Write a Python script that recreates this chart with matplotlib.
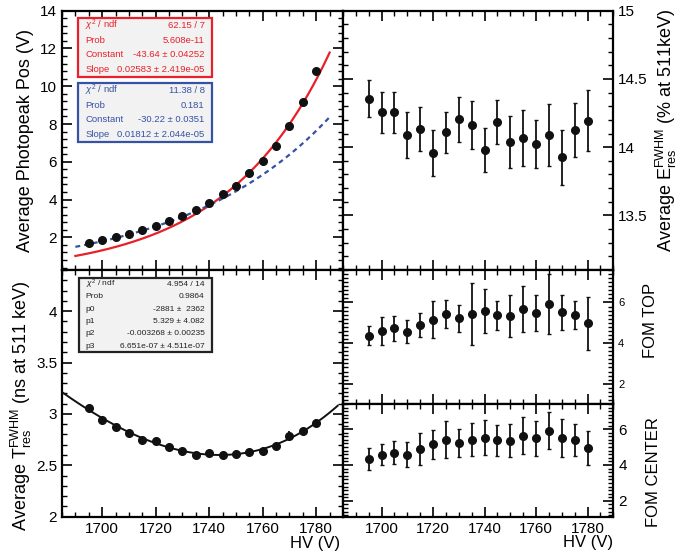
import numpy as np
import matplotlib
matplotlib.use('Agg')
import matplotlib.pyplot as plt
from matplotlib.ticker import MultipleLocator, FormatStrFormatter
from matplotlib.patches import Rectangle

plt.rcParams['font.family'] = ['Liberation Sans', 'DejaVu Sans']
plt.rcParams['mathtext.fontset'] = 'custom'
plt.rcParams['mathtext.rm'] = 'Liberation Sans'
plt.rcParams['mathtext.it'] = 'Liberation Sans:italic'

# HV scan points
hv = [1695, 1700, 1705, 1710, 1715, 1720, 1725, 1730, 1735,
      1740, 1745, 1750, 1755, 1760, 1765, 1770, 1775, 1780]

# average photopeak position (V)
photopeak = [1.70, 1.86, 2.00, 2.18, 2.39, 2.62, 2.85, 3.11, 3.45,
             3.80, 4.27, 4.74, 5.40, 6.03, 6.83, 7.87, 9.16, 10.81]
# exponential fits exp(constant + slope * HV)
red_fit = (-43.64, 0.02583)
blue_fit = (-30.22, 0.01812)
red_range = (1690, 1785)
blue_range = (1690, 1785)

# energy resolution (% at 511 keV)
eres = [14.355, 14.257, 14.257, 14.088, 14.135, 13.956, 14.110, 14.206, 14.162,
        13.978, 14.184, 14.037, 14.066, 14.024, 14.090, 13.926, 14.127, 14.193]
eres_err = [0.137, 0.150, 0.150, 0.167, 0.160, 0.168, 0.150, 0.165, 0.173,
            0.160, 0.160, 0.190, 0.207, 0.175, 0.227, 0.200, 0.200, 0.224]

# timing resolution (ns at 511 keV)
tres = [3.061, 2.940, 2.875, 2.819, 2.750, 2.741, 2.682, 2.640, 2.604,
        2.620, 2.600, 2.613, 2.626, 2.643, 2.685, 2.783, 2.829, 2.914]
tres_err = [0.02, 0.02, 0.02, 0.02, 0.02, 0.02, 0.02, 0.02, 0.02,
            0.02, 0.02, 0.02, 0.02, 0.02, 0.02, 0.05, 0.02, 0.035]
tres_range = (1685, 1788)

# figure of merit
fom_top = [4.36, 4.61, 4.72, 4.57, 4.89, 5.16, 5.43, 5.23, 5.44,
           5.59, 5.36, 5.34, 5.67, 5.49, 5.93, 5.52, 5.39, 4.97]
fom_top_err = [0.46, 0.68, 0.61, 0.56, 0.61, 0.89, 0.67, 0.66, 1.54,
               1.07, 0.72, 1.04, 1.13, 0.87, 1.46, 0.87, 0.70, 1.30]
fom_center = [4.35, 4.58, 4.69, 4.57, 4.88, 5.15, 5.41, 5.21, 5.42,
              5.53, 5.37, 5.35, 5.64, 5.48, 5.92, 5.50, 5.37, 4.95]
fom_center_err = [0.62, 0.58, 0.62, 0.70, 0.89, 0.82, 1.02, 0.79, 0.94,
                  0.97, 0.85, 0.91, 1.01, 0.96, 1.05, 1.06, 0.89, 0.93]

red_stats = [(r'$\chi^2$ / ndf', '62.15 / 7'), ('Prob', '5.608e-11'),
             ('Constant', '-43.64 ± 0.04252'), ('Slope', '0.02583 ± 2.419e-05')]
blue_stats = [(r'$\chi^2$ / ndf', '11.38 / 8'), ('Prob', '0.181'),
              ('Constant', '-30.22 ± 0.0351'), ('Slope', '0.01812 ± 2.044e-05')]
tres_stats = [(r'$\chi^2$ / ndf', '4.954 / 14'), ('Prob', '0.9864'),
              ('p0', '-2881 ±  2362'), ('p1', '5.329 ± 4.082'),
              ('p2', '-0.003268 ± 0.00235'), ('p3', '6.651e-07 ± 4.511e-07')]

RED = '#e8202a'
BLUE = '#3552a4'
W, H = 686.0, 553.0


def frame(ax, xlabels, ymaj, ymin, labelright=False, fs=11):
    ax.set_xlim(1685, 1790)
    ax.xaxis.set_major_locator(MultipleLocator(20))
    ax.xaxis.set_minor_locator(MultipleLocator(5))
    ax.yaxis.set_major_locator(MultipleLocator(ymaj))
    ax.yaxis.set_minor_locator(MultipleLocator(ymin))
    ax.yaxis.set_major_formatter(FormatStrFormatter('%g'))
    ax.tick_params(which='both', direction='in', top=True, bottom=True,
                   left=True, right=True, labelbottom=xlabels,
                   labelleft=not labelright, labelright=labelright, labelsize=fs)
    ax.tick_params(axis='x', labelsize=11)
    ax.tick_params(which='major', length=7, width=1.2)
    ax.tick_params(which='minor', length=3.5, width=1.0)
    for s in ax.spines.values():
        s.set_linewidth(1.6)


def stats_box(ax, rows, x0, x1, y0, y1, color, edge, fs=6.8):
    ax.add_patch(Rectangle((x0, y0), x1 - x0, y1 - y0, transform=ax.transAxes,
                           facecolor='#f2f2f2', edgecolor=edge, lw=1.6, zorder=5))
    n = len(rows)
    step = (y1 - y0) / n
    for i, (k, v) in enumerate(rows):
        yy = y1 - (i + 0.5) * step
        ax.text(x0 + 0.025, yy, k, transform=ax.transAxes, color=color,
                fontsize=fs, va='center', ha='left', zorder=6)
        ax.text(x1 - 0.025, yy, v, transform=ax.transAxes, color=color,
                fontsize=fs, va='center', ha='right', zorder=6)


def pos(x0, y0, x1, y1):
    # pixel box (top-left origin) -> figure fraction
    return [x0 / W, 1 - y1 / H, (x1 - x0) / W, (y1 - y0) / H]


fig = plt.figure(figsize=(6.86, 5.53), dpi=100)

# top left: photopeak position
ax1 = fig.add_axes(pos(62, 10.7, 343, 270))
frame(ax1, False, 2, 0.4)
ax1.set_ylim(0.27, 14)
xr = np.linspace(red_range[0], red_range[1], 200)
xb = np.linspace(blue_range[0], blue_range[1], 200)
ax1.plot(xr, np.exp(red_fit[0] + red_fit[1] * xr), color=RED, lw=1.6, zorder=3)
ax1.plot(xb, np.exp(blue_fit[0] + blue_fit[1] * xb), color=BLUE, lw=1.6,
         linestyle=(0, (2.2, 1.8)), zorder=3)
ax1.plot(hv, photopeak, 'o', color='#111111', ms=5.5, zorder=4)
ax1.set_ylabel('Average Photopeak Pos (V)', fontsize=13)
ax1.yaxis.set_label_coords(-0.10, 0.5)
stats_box(ax1, red_stats, 0.058, 0.533, 0.745, 0.972, RED, RED)
stats_box(ax1, blue_stats, 0.058, 0.533, 0.493, 0.722, BLUE, BLUE)

# bottom left: timing resolution
ax2 = fig.add_axes(pos(62, 270, 343, 516.7))
frame(ax2, True, 0.5, 0.1)
ax2.set_ylim(2, 4.4)
coef = np.polyfit(hv, tres, 3)
xt = np.linspace(tres_range[0], tres_range[1], 200)
ax2.plot(xt, np.polyval(coef, xt), color='#111111', lw=1.4, zorder=3)
ax2.errorbar(hv, tres, yerr=tres_err, fmt='o', color='#111111', ms=5.5,
             elinewidth=1.3, capsize=0, zorder=4)
ax2.set_ylabel(r'Average T$^{\rm FWHM}_{\rm res}$ (ns at 511 keV)', fontsize=13)
ax2.yaxis.set_label_coords(-0.10, 0.45)
ax2.set_xlabel('HV (V)', fontsize=12, loc='right')
ax2.xaxis.set_label_coords(0.99, -0.078)
stats_box(ax2, tres_stats, 0.059, 0.533, 0.667, 0.966, '#222222', '#222222', fs=6.0)

# top right: energy resolution
ax3 = fig.add_axes(pos(343, 10.7, 613.3, 270))
frame(ax3, False, 0.5, 0.1, labelright=True)
ax3.set_ylim(13.1, 15)
ax3.errorbar(hv, eres, yerr=eres_err, fmt='o', color='#111111', ms=5.5,
             elinewidth=1.3, capsize=1.5, zorder=4)
ax3.yaxis.set_label_position('right')
ax3.set_ylabel(r'Average E$^{\rm FWHM}_{\rm res}$ (% at 511keV)', fontsize=13)
ax3.yaxis.set_label_coords(1.15, 0.54)

# FOM top
ax4 = fig.add_axes(pos(343, 270, 613.3, 404))
frame(ax4, False, 2, 0.2, labelright=True, fs=8)
ax4.set_ylim(1.0, 7.6)
ax4.errorbar(hv, fom_top, yerr=fom_top_err, fmt='o', color='#111111', ms=5.5,
             elinewidth=1.3, capsize=1.5, zorder=4)
ax4.yaxis.set_label_position('right')
ax4.set_ylabel('FOM TOP', fontsize=12)
ax4.yaxis.set_label_coords(1.11, 0.62)

# FOM center
ax5 = fig.add_axes(pos(343, 404, 613.3, 517))
frame(ax5, True, 2, 0.2, labelright=True)
ax5.set_ylim(1.1, 7.4)
ax5.errorbar(hv, fom_center, yerr=fom_center_err, fmt='o', color='#111111', ms=5.5,
             elinewidth=1.3, capsize=1.5, zorder=4)
ax5.yaxis.set_label_position('right')
ax5.set_ylabel('FOM CENTER', fontsize=12)
ax5.yaxis.set_label_coords(1.12, 0.40)
ax5.set_xlabel('HV (V)', fontsize=12, loc='right')
ax5.xaxis.set_label_coords(1.0, -0.16)

fig.savefig('out.png', dpi=100)
